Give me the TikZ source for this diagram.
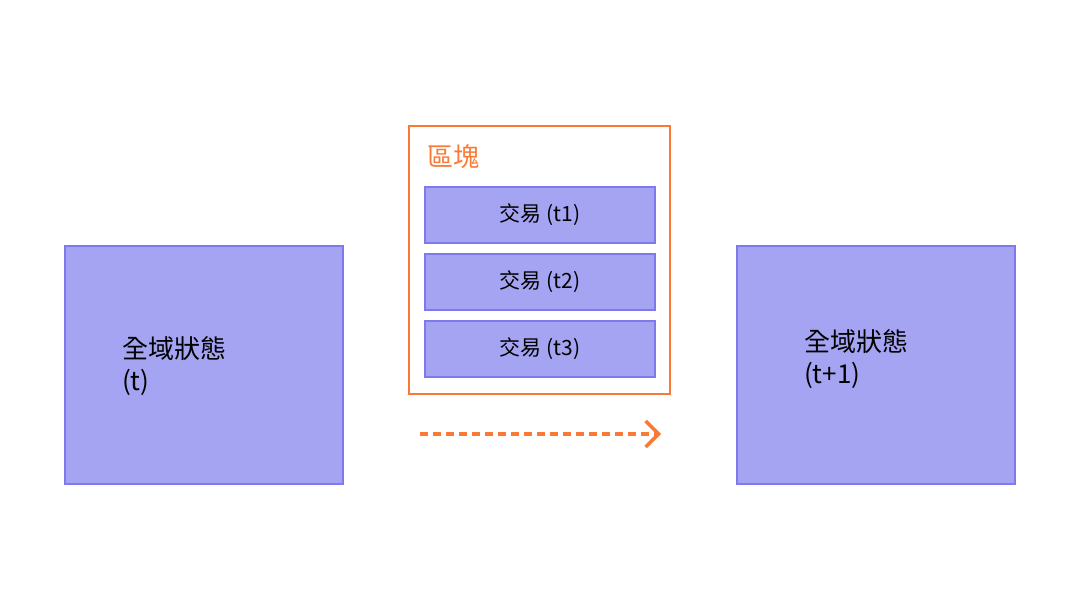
\documentclass[tikz,border=0pt]{standalone}
\usepackage{fontspec}
\setmainfont{Noto Sans CJK TC}
\usetikzlibrary{arrows.meta}
\definecolor{boxfill}{HTML}{A5A4F3}
\definecolor{boxline}{HTML}{7D7AEC}
\definecolor{orangec}{HTML}{FA7A35}
\tikzset{
  statebox/.style={draw=boxline, fill=boxfill, line width=1.5pt, rectangle},
  txbox/.style={draw=boxline, fill=boxfill, line width=1.5pt, rectangle,
     minimum width=230pt, minimum height=56pt, font=\fontsize{21}{24}\selectfont},
  blockbox/.style={draw=orangec, line width=1.5pt, rectangle},
  statelabel/.style={anchor=west, align=left, inner sep=0pt, font=\fontsize{26}{32}\selectfont},
}
\begin{document}
\begin{tikzpicture}[x=1pt,y=-1pt]
\useasboundingbox (0,0) rectangle (1080,608);
\fill[white] (0,0) rectangle (1080,608);
% state boxes
\node[statebox, minimum width=278pt, minimum height=238pt] (s0) at (204,365) {};
\node[statebox, minimum width=278pt, minimum height=238pt] (s1) at (876,365) {};
\node[statelabel] (s0t) at (122,366) {全域狀態\\(t)};
\node[statelabel] (s1t) at (804,359) {全域狀態\\(t+1)};
% block
\node[blockbox, minimum width=261pt, minimum height=268pt] (blk) at (539.5,260) {};
\node[anchor=west, inner sep=0pt, text=orangec, font=\fontsize{26}{30}\selectfont] (blkt) at (427,157) {區塊};
\node[txbox] (t1) at (540,215) {交易 (t1)};
\node[txbox] (t2) at (540,282) {交易 (t2)};
\node[txbox] (t3) at (540,349) {交易 (t3)};
% arrow
\coordinate (a0) at (420,434);
\coordinate (a1) at (661,434);
\draw[orangec, line width=3.5pt, dash pattern=on 8pt off 5pt,
  -{Straight Barb[length=13pt, width=26pt, line width=3.5pt]}] (a0) -- (a1);
\end{tikzpicture}
\end{document}
